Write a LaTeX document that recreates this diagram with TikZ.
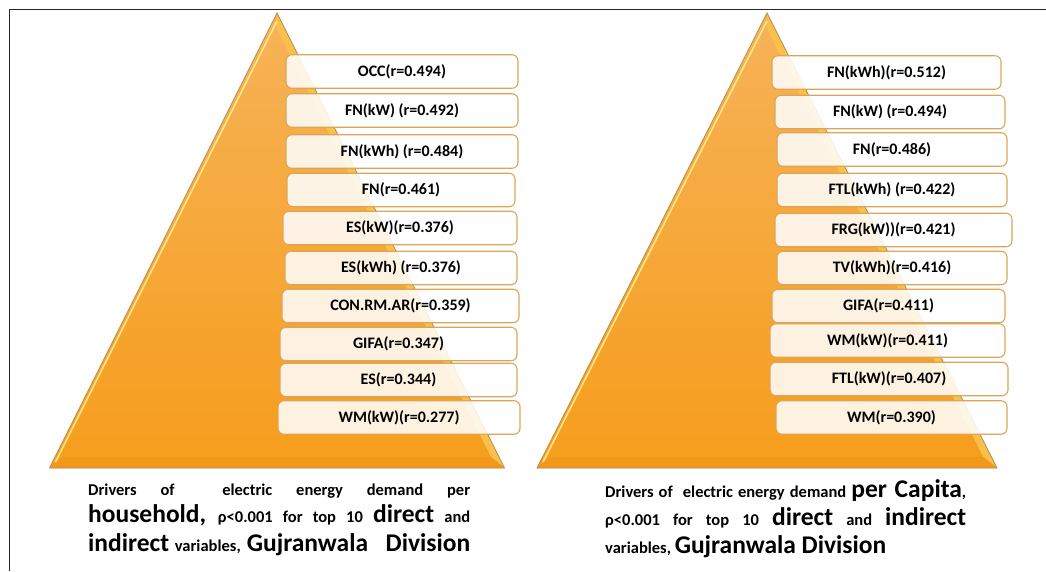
\documentclass[tikz,border=0pt]{standalone}
\usepackage{fontspec}
\setmainfont{Carlito}
\usepackage{xcolor}
\usepackage{tikz}
\usetikzlibrary{positioning}

\definecolor{triTop}{HTML}{F6B358}
\definecolor{triBot}{HTML}{F69D1C}
\definecolor{bevelHi}{HTML}{FFE889}
\definecolor{bevelSide}{HTML}{F9C04C}
\definecolor{bevelBase}{HTML}{F29818}
\definecolor{triEdge}{HTML}{B98C52}
\definecolor{boxEdge}{HTML}{DEA458}

% large words in the captions
\newcommand{\bigw}[1]{{\fontsize{25.5}{28}\selectfont #1}}

\begin{document}
\begin{tikzpicture}[x=1pt, y=-1pt]
    \tikzstyle{item} = [draw=boxEdge, line width=1.1pt, rounded corners=6pt, fill=white, fill opacity=0.86, text opacity=1, minimum height=33.5pt, minimum width=232pt, inner sep=0pt, font=\bfseries\fontsize{16}{18}\selectfont]
    \tikzstyle{captext} = [anchor=base west, inner sep=0pt, font=\bfseries\fontsize{16.5}{28}\selectfont]

    \useasboundingbox (0,0) rectangle (1046,571);

    % the two pyramids
    \foreach \ax/\hw in {277/227.5, 767/230} {
        \shade[top color=triTop, bottom color=triBot] (\ax,13) -- ({\ax-\hw},468) -- ({\ax+\hw},468) -- cycle;
        \fill[bevelSide] (\ax,13) -- ({\ax+\hw},468) -- ({\ax+0.9407*\hw},457) -- (\ax,29) -- cycle;
        \fill[bevelBase] ({\ax-\hw},468) -- ({\ax+\hw},468) -- ({\ax+0.9407*\hw},457) -- ({\ax-0.9407*\hw},457) -- cycle;
        \draw[bevelHi, line width=1.6pt] ({\ax-0.9736*\hw},462) -- (\ax,21);
        \draw[triEdge, line width=0.8pt] (\ax,13) -- ({\ax-\hw},468) -- ({\ax+\hw},468) -- cycle;
    }

    % per household
    \node[item] (hh1) at (402,71.5) {OCC(r=0.494)};
    \node[item] (hh2) at (402,110.5) {FN(kW) (r=0.492)};
    \node[item] (hh3) at (402,151.5) {FN(kWh) (r=0.484)};
    \node[item, minimum width=228pt] (hh4) at (401,190) {FN(r=0.461)};
    \node[item, minimum width=234pt] (hh5) at (400,228) {ES(kW)(r=0.376)};
    \node[item] (hh6) at (401,268) {ES(kWh) (r=0.376)};
    \node[item, minimum width=237pt] (hh7) at (400.5,306) {CON.RM.AR(r=0.359)};
    \node[item, minimum width=237pt] (hh8) at (398.5,344) {GIFA(r=0.347)};
    \node[item, minimum width=237pt] (hh9) at (398.5,380) {ES(r=0.344)};
    \node[item, minimum width=242pt] (hh10) at (399,417.5) {WM(kW)(r=0.277)};

    % per capita
    \node[item, minimum width=229pt] (pc1) at (886.5,72.5) {FN(kWh)(r=0.512)};
    \node[item, minimum width=230pt] (pc2) at (890,112) {FN(kW) (r=0.494)};
    \node[item, minimum width=230pt] (pc3) at (892,149.5) {FN(r=0.486)};
    \node[item, minimum width=230pt] (pc4) at (892,190) {FTL(kWh) (r=0.422)};
    \node[item, minimum width=237pt] (pc5) at (893.5,230) {FRG(kW))(r=0.421)};
    \node[item, minimum width=230pt] (pc6) at (892,268) {TV(kWh)(r=0.416)};
    \node[item, minimum width=233pt] (pc7) at (888.5,306) {GIFA(r=0.411)};
    \node[item, minimum width=235pt] (pc8) at (887.5,340.5) {WM(kW)(r=0.411)};
    \node[item, minimum width=238pt] (pc9) at (889,379) {FTL(kW)(r=0.407)};
    \node[item, minimum width=231pt] (pc10) at (891.5,417.5) {WM(r=0.390)};

    % captions
    \node[captext] (hhcap1) at (88,495) {\makebox[382pt][s]{Drivers of \ electric energy demand per}};
    \node[captext] (hhcap2) at (88,522) {\makebox[382pt][s]{\bigw{household,} ρ<0.001 for top 10 \bigw{direct} and}};
    \node[captext] (hhcap3) at (88,551) {\makebox[382pt][s]{\bigw{indirect} variables, \bigw{Gujranwala \ Division}}};
    \node[captext] (pccap1) at (605,497) {\makebox[361pt][s]{Drivers of \ electric energy demand \bigw{per Capita},}};
    \node[captext] (pccap2) at (605,525) {\makebox[361pt][s]{ρ<0.001 for top 10 \bigw{direct} and \bigw{indirect}}};
    \node[captext] (pccap3) at (605,553) {variables, \bigw{Gujranwala Division}};

    % frame
    \draw[line width=1.3pt, black!85] (9.5,571) -- (9.5,9.5) -- (1046,9.5);
\end{tikzpicture}
\end{document}
